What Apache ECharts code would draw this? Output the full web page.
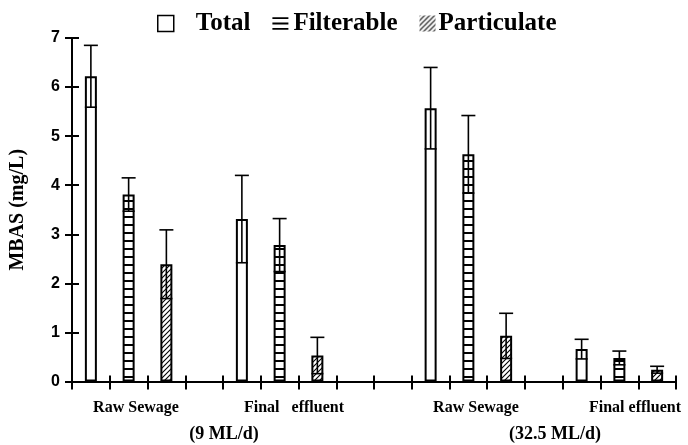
<!DOCTYPE html>
<html>
<head>
<meta charset="utf-8">
<script src="https://cdn.jsdelivr.net/npm/echarts@6/dist/echarts.min.js"></script>
<style>
  html, body { margin: 0; padding: 0; background: #fff; }
  #chart { width: 688px; height: 445px; }
</style>
</head>
<body>
<div id="chart"></div>
<script>
// 16 slots on the x axis, bars sit in some of them
var slots = ['', '', '', '', '', '', '', '', '', '', '', '', '', '', '', ''];
var totalSlots = [0, 4, 9, 13];
var filterSlots = [1, 5, 10, 14];
var partSlots = [2, 6, 11, 15];

// MBAS (mg/L), mean and error
var totalMean = [6.22, 3.31, 5.57, 0.66];
var totalErr = [0.63, 0.89, 0.83, 0.20];
var filterMean = [3.81, 2.78, 4.63, 0.48];
var filterErr = [0.34, 0.54, 0.79, 0.14];
var partMean = [2.39, 0.53, 0.93, 0.24];
var partErr = [0.70, 0.37, 0.46, 0.07];

var siteLabels = ['Raw Sewage', 'Final   effluent', 'Raw Sewage', 'Final effluent'];
var plantLabels = ['(9 ML/d)', '(32.5 ML/d)'];

var serif = '"Liberation Serif", "Times New Roman", serif';
var sans = '"Liberation Sans", Arial, sans-serif';

// patterns
function hLines(step, thick) {
  var c = document.createElement('canvas');
  c.width = 8; c.height = step;
  var ctx = c.getContext('2d');
  ctx.fillStyle = '#fff';
  ctx.fillRect(0, 0, 8, step);
  ctx.fillStyle = '#000';
  ctx.fillRect(0, 0, 8, thick);
  return c;
}
function diagLines(step) {
  var c = document.createElement('canvas');
  c.width = step; c.height = step;
  var ctx = c.getContext('2d');
  ctx.fillStyle = '#fff';
  ctx.fillRect(0, 0, step, step);
  ctx.strokeStyle = '#000';
  ctx.lineWidth = 1.1;
  ctx.beginPath();
  ctx.moveTo(-1, step + 1); ctx.lineTo(step + 1, -1);
  ctx.moveTo(-1, 1); ctx.lineTo(1, -1);
  ctx.moveTo(step - 1, step + 1); ctx.lineTo(step + 1, step - 1);
  ctx.stroke();
  return c;
}
var filterFill = { image: hLines(8, 2), repeat: 'repeat' };
var partFill = { image: diagLines(5), repeat: 'repeat' };

function toSlots(slotIdx, vals) {
  var arr = slots.map(function () { return '-'; });
  slotIdx.forEach(function (s, i) { arr[s] = vals[i]; });
  return arr;
}
function errData(slotIdx, mean, err) {
  return slotIdx.map(function (s, i) { return [s, mean[i], err[i]]; });
}

function renderErr(params, api) {
  var x = api.value(0), m = api.value(1), e = api.value(2);
  var top = api.coord([x, m + e]);
  var bot = api.coord([x, m - e]);
  var half = 7;
  var st = { stroke: '#000', lineWidth: 1.6 };
  return {
    type: 'group',
    children: [
      { type: 'line', shape: { x1: top[0], y1: top[1], x2: bot[0], y2: bot[1] }, style: st },
      { type: 'line', shape: { x1: top[0] - half, y1: top[1], x2: top[0] + half, y2: top[1] }, style: st },
      { type: 'line', shape: { x1: bot[0] - half + 1, y1: bot[1], x2: bot[0] + half - 1, y2: bot[1] }, style: st }
    ]
  };
}

var barStyle = function (fill) {
  return { color: fill, borderColor: '#000', borderWidth: 2 };
};

var chart = echarts.init(document.getElementById('chart'), null, { renderer: 'canvas' });

var graphics = [];
var sitePos = [136, 294, 476, 635];
siteLabels.forEach(function (t, i) {
  graphics.push({
    type: 'text', x: sitePos[i], y: 408,
    style: { text: t, font: 'bold 16px ' + serif, fill: '#000', textAlign: 'center', textVerticalAlign: 'middle' }
  });
});
var plantPos = [224, 555];
plantLabels.forEach(function (t, i) {
  graphics.push({
    type: 'text', x: plantPos[i], y: 434,
    style: { text: t, font: 'bold 18px ' + serif, fill: '#000', textAlign: 'center', textVerticalAlign: 'middle' }
  });
});

var legendText = { fontFamily: serif, fontWeight: 'bold', fontSize: 25, color: '#000' };

var option = {
  animation: false,
  backgroundColor: '#fff',
  grid: { left: 68, right: 12, top: 38, bottom: 63.5, containLabel: false },
  legend: {
    top: 11,
    left: 157,
    padding: 0,
    itemWidth: 16,
    itemHeight: 16,
    itemGap: 22,
    textStyle: legendText,
    data: [
      { name: 'Total', icon: 'rect', itemStyle: { color: '#fff', borderColor: '#000', borderWidth: 1.5 },
        textStyle: Object.assign({}, legendText, { padding: [0, 6, 0, 17] }) },
      { name: 'Filterable', icon: 'path://M0,0H12V1.4H0Z M0,4H12V5.4H0Z M0,8H12V9.4H0Z', itemStyle: { color: '#000', borderWidth: 0 } },
      { name: 'Particulate', icon: 'rect', itemStyle: { color: partFill, borderWidth: 0 },
        textStyle: Object.assign({}, legendText, { padding: [0, 0, 0, -2] }) }
    ]
  },
  xAxis: [
    {
      type: 'category', data: slots, boundaryGap: true,
      axisLine: { lineStyle: { color: '#000', width: 2 } },
      axisTick: { show: true, length: 8, interval: 0, lineStyle: { color: '#000', width: 2 } },
      axisLabel: { show: false }
    },
    {
      type: 'category', data: slots, boundaryGap: true, position: 'bottom',
      axisLine: { show: false },
      axisTick: { show: true, inside: true, length: 6, interval: 0, lineStyle: { color: '#000', width: 2 } },
      axisLabel: { show: false }
    }
  ],
  yAxis: [
    {
      type: 'value', min: 0, max: 7, interval: 1,
      name: 'MBAS (mg/L)', nameLocation: 'middle', nameGap: 44, nameRotate: 90,
      nameTextStyle: { fontFamily: serif, fontWeight: 'bold', fontSize: 20, color: '#000' },
      axisLine: { show: true, lineStyle: { color: '#000', width: 2 } },
      axisTick: { show: true, length: 7, lineStyle: { color: '#000', width: 2 } },
      axisLabel: { fontFamily: sans, fontWeight: 'bold', fontSize: 16, color: '#000', margin: 12 },
      splitLine: { show: false }
    },
    {
      type: 'value', min: 0, max: 7, interval: 1, position: 'left',
      axisLine: { show: false },
      axisTick: { show: true, inside: true, length: 7, lineStyle: { color: '#000', width: 2 } },
      axisLabel: { show: false },
      splitLine: { show: false }
    }
  ],
  series: [
    { name: 'Total', type: 'bar', barWidth: 12, barGap: '-100%', data: toSlots(totalSlots, totalMean), itemStyle: barStyle('#fff') },
    { name: 'Filterable', type: 'bar', barWidth: 12, barGap: '-100%', data: toSlots(filterSlots, filterMean), itemStyle: barStyle(filterFill) },
    { name: 'Particulate', type: 'bar', barWidth: 12, barGap: '-100%', data: toSlots(partSlots, partMean), itemStyle: barStyle(partFill) },
    { name: 'errTotal', type: 'custom', renderItem: renderErr, data: errData(totalSlots, totalMean, totalErr), z: 5 },
    { name: 'errFilter', type: 'custom', renderItem: renderErr, data: errData(filterSlots, filterMean, filterErr), z: 5 },
    { name: 'errPart', type: 'custom', renderItem: renderErr, data: errData(partSlots, partMean, partErr), z: 5 }
  ],
  graphic: graphics
};
chart.setOption(option);
</script>
</body>
</html>
